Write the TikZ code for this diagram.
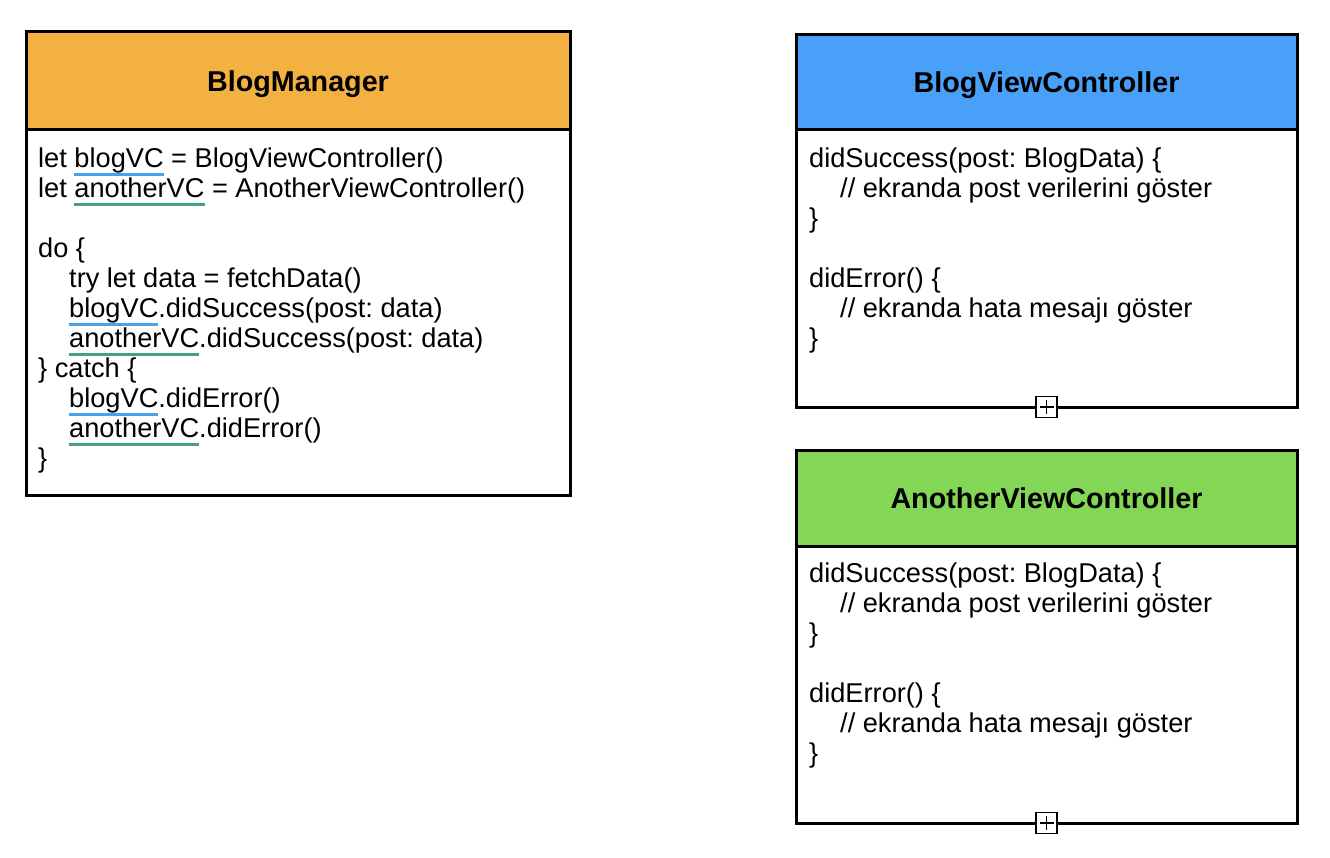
\documentclass[tikz,border=0pt]{standalone}
\usepackage{fontspec}
\setmainfont{Liberation Sans}
\usetikzlibrary{positioning}

\definecolor{managerorange}{RGB}{242,177,64}
\definecolor{blogblue}{RGB}{72,160,248}
\definecolor{anothergreen}{RGB}{131,214,86}
\definecolor{lineblue}{RGB}{74,163,232}
\definecolor{lineteal}{RGB}{70,158,138}

% colored underline under a variable name
\newcommand{\vcname}[2]{\setbox0=\hbox{#2}\rlap{\color{#1}\rule[-8pt]{\wd0}{3pt}}\box0\relax}
\newcommand{\ind}{\hspace*{31pt}}
\frenchspacing

\begin{document}
\begin{tikzpicture}[x=1pt,y=-1pt,
		head/.style={rectangle,draw,line width=3pt,outer sep=0pt,anchor=north west,text depth=0pt,
			font=\fontsize{28.7}{32}\selectfont\bfseries},
		body/.style={rectangle,draw,line width=3pt,outer sep=0pt,fill=white},
		code/.style={align=left,inner sep=0pt,anchor=north west,
			font=\fontsize{27.2}{30}\selectfont},
		plus box/.style={rectangle,draw,fill=white,line width=1.5pt,minimum size=21pt,
			inner sep=0pt,path picture={
				\draw[line width=1.5pt] (path picture bounding box.center) +(-7pt,0pt) -- +(7pt,0pt)
					(path picture bounding box.center) +(0pt,-7pt) -- +(0pt,7pt);}}]
	\useasboundingbox (0,0) rectangle (1330,858);

	% BlogManager
	\node[head,fill=managerorange,minimum width=544pt,minimum height=98pt] (bmhead) at (26,32) {BlogManager};
	\node[body,minimum width=544pt,minimum height=365pt,below=0pt of bmhead] (bmbody) {};
	\node[code] (bmcode) at ([shift={(12pt,-18pt)}]bmbody.north west) {%
		let \vcname{lineblue}{blogVC} = BlogViewController()\\
		let \vcname{lineteal}{anotherVC} = AnotherViewController()\\
		\\
		do \{\\
		\ind try let data = fetchData()\\
		\ind \vcname{lineblue}{blogVC}.didSuccess(post: data)\\
		\ind \vcname{lineteal}{anotherVC}.didSuccess(post: data)\\
		\} catch \{\\
		\ind \vcname{lineblue}{blogVC}.didError()\\
		\ind \vcname{lineteal}{anotherVC}.didError()\\
		\}};

	% BlogViewController
	\node[head,fill=blogblue,minimum width=501pt,minimum height=95pt] (bvchead) at (796,35) {BlogViewController};
	\node[body,minimum width=501pt,minimum height=277pt,below=0pt of bvchead] (bvcbody) {};
	\node[code] (bvccode) at ([shift={(13pt,-18pt)}]bvcbody.north west) {%
		didSuccess(post: BlogData) \{\\
		\ind // ekranda post verilerini göster\\
		\}\\
		\\
		didError() \{\\
		\ind // ekranda hata mesajı göster\\
		\}};
	\node[plus box] (bvcplus) at (bvcbody.south) {};

	% AnotherViewController
	\node[head,fill=anothergreen,minimum width=501pt,minimum height=96pt] (avchead) at (796,450) {AnotherViewController};
	\node[body,minimum width=501pt,minimum height=277pt,below=0pt of avchead] (avcbody) {};
	\node[code] (avccode) at ([shift={(13pt,-17pt)}]avcbody.north west) {%
		didSuccess(post: BlogData) \{\\
		\ind // ekranda post verilerini göster\\
		\}\\
		\\
		didError() \{\\
		\ind // ekranda hata mesajı göster\\
		\}};
	\node[plus box] (avcplus) at (avcbody.south) {};
\end{tikzpicture}
\end{document}
